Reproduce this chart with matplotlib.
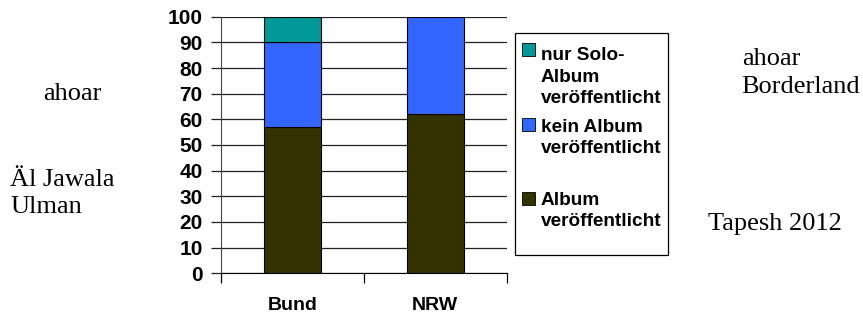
from matplotlib import pyplot as plt
from matplotlib.patches import Rectangle
import numpy as np

# Data (percent)
categories = ["Bund", "NRW"]
album = [57, 62]
kein_album = [33, 38]
solo_album = [10, 0]
legend_labels = ["nur Solo-\nAlbum\nveröffentlicht", "kein Album\nveröffentlicht", "Album\nveröffentlicht"]
colors = ["#009999", "#3366FF", "#333300"]

W, H = 863, 317
fig = plt.figure(figsize=(W / 100, H / 100), dpi=100)
ax = fig.add_axes([220.7 / W, 1 - 273.3 / H, 286.0 / W, 256.6 / H])

x = np.arange(len(categories))
bottom2 = np.array(album)
bottom3 = bottom2 + np.array(kein_album)
ax.bar(x, album, width=0.4, color=colors[2], edgecolor="black", linewidth=0.8, zorder=3)
ax.bar(x, kein_album, width=0.4, bottom=bottom2, color=colors[1], edgecolor="black", linewidth=0.8, zorder=3)
for xi, b, v in zip(x, bottom3, solo_album):
    if v > 0:
        ax.bar(xi, v, width=0.4, bottom=b, color=colors[0], edgecolor="black", linewidth=0.8, zorder=3)

ax.set_xlim(-0.5, 1.5)
ax.set_ylim(0, 100)
ax.set_yticks(range(0, 101, 10))
ax.yaxis.grid(True, color="#222222", linewidth=0.9, zorder=0)
for s in ["top", "right"]:
    ax.spines[s].set_visible(False)
ax.spines["left"].set_color("#444444")
ax.spines["bottom"].set_color("black")
ax.tick_params(axis="y", length=7, width=0.9, pad=6, labelsize=15, color="#222222")
ax.set_xticks([-0.5, 0.5, 1.5])
ax.set_xticklabels([])
ax.tick_params(axis="x", which="major", length=7, width=0.9)
ax.set_xticks(x, minor=True)
ax.set_xticklabels(categories, minor=True)
ax.tick_params(axis="x", which="minor", length=0, pad=17, labelsize=14)
for lab in ax.get_yticklabels() + ax.get_xticklabels(minor=True):
    lab.set_fontfamily("Liberation Sans")
    lab.set_fontweight("bold")

# Legend drawn by hand in pixel positions
fig.patches.append(Rectangle((515 / W, 1 - 255 / H), 152.5 / W, 222 / H,
                             transform=fig.transFigure, facecolor="white",
                             edgecolor="black", linewidth=0.9))
entry_centers = [77, 138, 211]
marker_centers = [49, 124.5, 198.5]
for lab, col, cy, my in zip(legend_labels, colors, entry_centers, marker_centers):
    fig.patches.append(Rectangle((521.5 / W, 1 - (my + 6.5) / H), 13 / W, 13 / H,
                                 transform=fig.transFigure, facecolor=col,
                                 edgecolor="black", linewidth=0.6))
    fig.text(541 / W, 1 - cy / H, lab, ha="left", va="center", fontsize=13.7,
             fontweight="bold", family="Liberation Sans", linespacing=1.36)

# Side notes
serif = dict(family="Liberation Serif", fontsize=19, color="black", linespacing=1.3)
fig.text(43 / W, 1 - 94 / H, "ahoar", ha="left", va="center", **serif)
fig.text(10 / W, 1 - 193.5 / H, "Äl Jawala\nUlman", ha="left", va="center", **serif)
fig.text(741.7 / W, 1 - 73 / H, "ahoar\nBorderland", ha="left", va="center", **serif)
fig.text(708 / W, 1 - 224 / H, "Tapesh 2012", ha="left", va="center", **serif)

fig.savefig("out.png", dpi=100)
